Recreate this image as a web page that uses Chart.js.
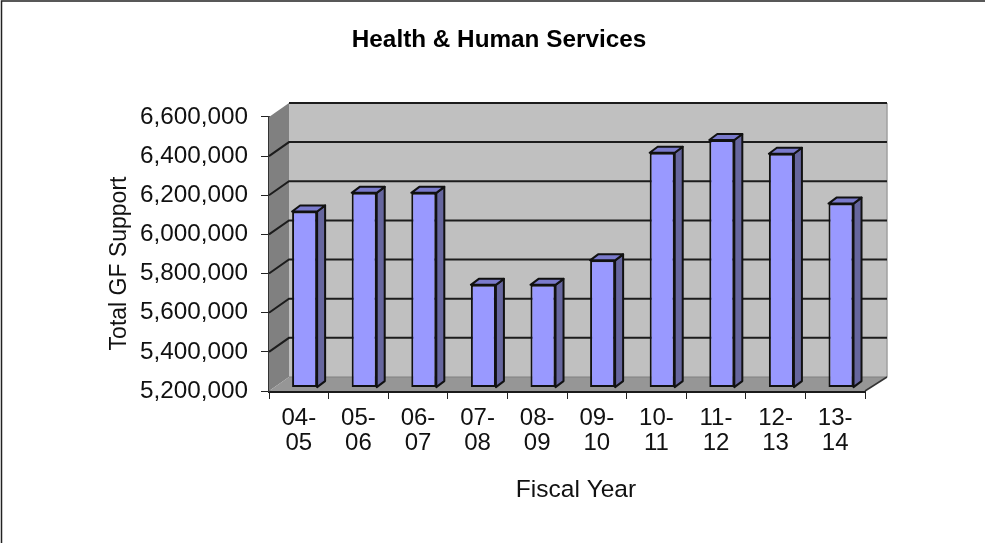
<!DOCTYPE html>
<html><head><meta charset="utf-8">
<style>html,body{margin:0;padding:0;background:#fff;overflow:hidden}#wrap{position:absolute;left:0;top:0;width:985px;height:543px}</style>
<script src="https://cdn.jsdelivr.net/npm/chart.js@4"></script>
</head><body><div id="wrap"><canvas id="c" width="985" height="543"></canvas></div>
<script>
const categories=[['04-','05'],['05-','06'],['06-','07'],['07-','08'],['08-','09'],['09-','10'],['10-','11'],['11-','12'],['12-','13'],['13-','14']];
const values=[6100000,6195000,6195000,5725000,5725000,5850000,6400000,6465000,6395000,6140000];
const yMin=5200000,yMax=6600000,yStep=200000;
const titleText='Health & Human Services',xTitle='Fiscal Year',yTitle='Total GF Support';
const FONT='"Liberation Sans",Arial,sans-serif';
const DX=20,DY=14,BDX=5.8,BDY=3.4,SDX=8,SDY=6;
function shiftTitle(s,dx,dy){const orig=s.drawTitle;s.drawTitle=function(){const c=this.ctx;c.save();c.translate(dx,dy);orig.call(this);c.restore();};}
const scene={id:'scene',
 afterLayout(chart){
  const t=chart.titleBlock;t.left+=13.5;t.right+=13.5;
  shiftTitle(chart.scales.x,9,0);
  shiftTitle(chart.scales.y,0,9.5);
 },
 beforeDraw(chart){
  const c=chart.ctx;c.save();
  c.fillStyle='#fff';c.fillRect(0,0,985,543);
  c.strokeStyle='#222';c.lineWidth=1.5;
  c.beginPath();c.moveTo(1.5,543);c.lineTo(1.5,1);c.lineTo(985,1);c.stroke();
  c.restore();
 },
 beforeDatasetsDraw(chart){
  const {ctx:c,chartArea:a,scales:{x,y}}=chart;
  const l=a.left,r=a.right,t=a.top,b=a.bottom;
  c.save();
  c.fillStyle='#c0c0c0';c.fillRect(l+DX,t-DY,r-l+2,b-t);
  c.fillStyle='#808080';c.beginPath();c.moveTo(l,t);c.lineTo(l+DX,t-DY);c.lineTo(l+DX,b-DY);c.lineTo(l,b);c.closePath();c.fill();
  c.fillStyle='#969696';c.beginPath();c.moveTo(l,b);c.lineTo(l+DX,b-DY);c.lineTo(r+DX+2,b-DY);c.lineTo(r,b);c.closePath();c.fill();
  c.strokeStyle='#a0a0a0';c.lineWidth=1.5;c.beginPath();c.moveTo(r+DX+2,t-DY);c.lineTo(r+DX+2,b-DY);c.stroke();
  c.strokeStyle='#808080';c.lineWidth=1;c.beginPath();c.moveTo(l+DX,b-DY);c.lineTo(r+DX+2,b-DY);c.stroke();
  c.strokeStyle='#1c1c1c';c.lineWidth=2;
  y.ticks.forEach(k=>{const p=y.getPixelForValue(k.value);
   if(k.value===yMin)return;
   c.beginPath();
   if(k.value!==yMax){c.moveTo(l,p);c.lineTo(l+DX,p-DY);}else{c.moveTo(l+DX,p-DY);}
   c.lineTo(r+DX+2,p-DY);c.stroke();});
  c.strokeStyle='#333';c.lineWidth=1.5;
  c.beginPath();c.moveTo(r,b);c.lineTo(r+DX+2,b-DY);c.stroke();
  // 3D side and top faces of each bar, from the bar elements
  c.translate(BDX,-BDY);
  c.lineWidth=2;c.strokeStyle='#111';c.lineJoin='round';
  chart.getDatasetMeta(0).data.forEach(e=>{
   const p=e.getProps(['x','y','base','width'],true);
   const L=p.x-p.width/2,R=p.x+p.width/2;
   c.fillStyle='#66669e';c.beginPath();c.moveTo(R,p.y);c.lineTo(R+SDX,p.y-SDY);c.lineTo(R+SDX,p.base-SDY);c.lineTo(R,p.base);c.closePath();c.fill();c.stroke();
   c.fillStyle='#7a7acc';c.beginPath();c.moveTo(L,p.y);c.lineTo(L+SDX,p.y-SDY);c.lineTo(R+SDX,p.y-SDY);c.lineTo(R,p.y);c.closePath();c.fill();c.stroke();
  });
  c.restore();
  c.save();c.translate(BDX,-BDY);
 },
 afterDatasetsDraw(chart){chart.ctx.restore();}
};
new Chart(document.getElementById('c'),{
 type:'bar',
 data:{labels:categories,datasets:[{data:values,base:yMin,backgroundColor:'#9999ff',borderColor:'#111',borderWidth:2,borderSkipped:false,categoryPercentage:1,barPercentage:0.42,clip:false}]},
 plugins:[scene],
 options:{responsive:false,animation:false,
  layout:{padding:{left:106,right:120,top:0,bottom:0}},
  plugins:{legend:{display:false},tooltip:{enabled:false},
   title:{display:true,text:titleText,color:'#000',font:{family:FONT,size:24.3,weight:'bold'},padding:{top:26,bottom:61.8}}},
  scales:{
   x:{offset:true,
    grid:{drawOnChartArea:false,drawTicks:true,tickLength:8,tickColor:'#222',offset:true},
    border:{display:true,color:'#1a1a1a',width:3},
    ticks:{color:'#111',font:{family:FONT,size:24,lineHeight:1.04},maxRotation:0,minRotation:0,autoSkip:false,padding:7},
    title:{display:true,text:xTitle,color:'#111',font:{family:FONT,size:24.5},padding:{top:0,bottom:38}},
    afterFit(s){s.height=152;}},
   y:{min:yMin,max:yMax,
    grid:{drawOnChartArea:false,drawTicks:true,tickLength:8,tickColor:'#222'},
    border:{display:true,color:'#333',width:2},
    ticks:{stepSize:yStep,color:'#111',font:{family:FONT,size:24.3},padding:13,callback:v=>v.toLocaleString('en-US')},
    title:{display:true,text:yTitle,color:'#111',font:{family:FONT,size:23},padding:{top:0,bottom:0}},
    afterFit(s){s.width=163;}}
  }}
});
</script></body></html>
